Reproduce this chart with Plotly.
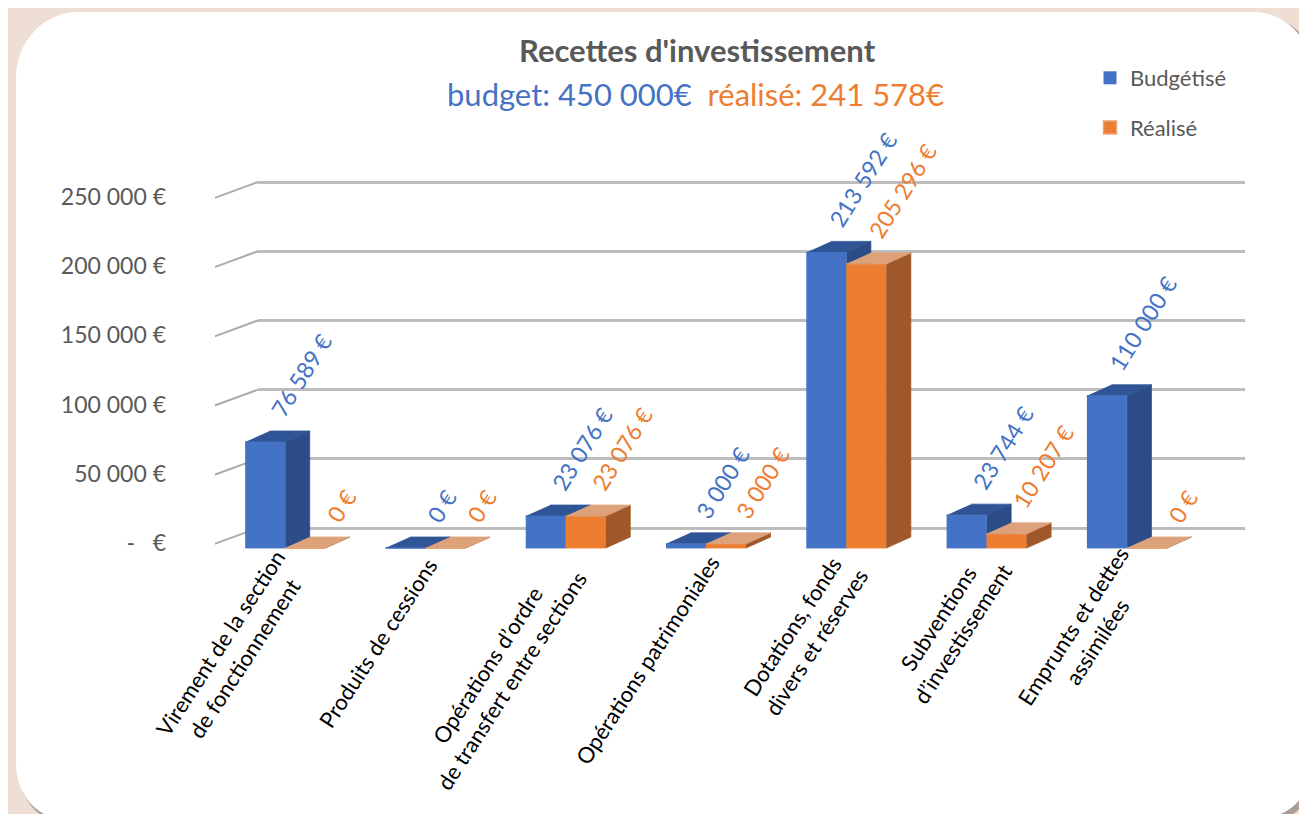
import math
import plotly.graph_objects as go

# ---------------- data ----------------
categories = [
    "Virement de la section<br>de fonctionnement",
    "Produits de cessions",
    "Opérations d’ordre<br>de transfert entre sections",
    "Opérations patrimoniales",
    "Dotations, fonds<br>divers et réserves",
    "Subventions<br>d’investissement",
    "Emprunts et dettes<br>assimilées",
]
budgetise = [76589, 0, 23076, 3000, 213592, 23744, 110000]
realise = [0, 0, 23076, 3000, 205296, 10207, 0]
y_tickvals = [0, 50000, 100000, 150000, 200000, 250000]
y_ticktext = ["-&nbsp;&nbsp; €", "50 000 €", "100 000 €", "150 000 €", "200 000 €", "250 000 €"]
series_names = ["Budgétisé", "Réalisé"]
title_text = "<b>Recettes d'investissement</b>"
subtitle_budget = "budget: 450 000€"
subtitle_real = "réalisé: 241 578€"

# ---------------- style / geometry ----------------
W, H = 1307, 814
OFF = 8  # page offset of the figure
FONT = "Lato"
BLUE, BLUE_SIDE, BLUE_TOP = "#4472C4", "#2B4C86", "#2F5597"
ORANGE, ORANGE_SIDE, ORANGE_TOP = "#ED7D31", "#A0572A", "#DDA27A"
GREY_TXT = "#595959"
Y_PER_PX = 250000 / 346.0
YMIN, YMAX = -6000, 290000
BAR_W = 0.285
DX = 0.175
DY = 11 * Y_PER_PX
CAT_SIZE = 22
CAT_ANGLE = 57
CHAR_W = 0.46 * CAT_SIZE


def fx_(x):
    return (x - OFF) / W


def fy_(y):
    return 1 - (y - OFF) / H


def ydom(zero_px):
    bottom = zero_px + (-YMIN) / Y_PER_PX
    top = zero_px - YMAX / Y_PER_PX
    return [fy_(bottom), fy_(top)]


def fmt(v):
    return f"{v:,}".replace(",", " ") + " €"


def faces(lefts, values):
    fx, fy, sx, sy, tx, ty = [], [], [], [], [], []
    for L, v in zip(lefts, values):
        fx += [L, L + BAR_W, L + BAR_W, L, None]
        fy += [0, 0, v, v, None]
        sx += [L + BAR_W, L + BAR_W + DX, L + BAR_W + DX, L + BAR_W, None]
        sy += [0, DY, v + DY, v, None]
        tx += [L, L + BAR_W, L + BAR_W + DX, L + DX, None]
        ty += [v, v, v + DY, v + DY, None]
    return (fx, fy), (sx, sy), (tx, ty)


def poly(xy, color):
    return go.Scatter(
        x=xy[0], y=xy[1], mode="lines", fill="toself", fillcolor=color,
        line=dict(color=color, width=0.8), hoverinfo="skip", showlegend=False,
        xaxis="x2", yaxis="y2",
    )


idx = list(range(len(categories)))
blue_left = [i - BAR_W for i in idx]
orange_left = [i for i in idx]
bf, bs, bt = faces(blue_left, budgetise)
of, os_, ot = faces(orange_left, realise)

fig = go.Figure()
fig.add_trace(go.Scatter(x=[None], y=[None], xaxis="x", yaxis="y", showlegend=False, hoverinfo="skip"))

fig.add_trace(poly(bs, BLUE_SIDE))
fig.add_trace(poly(bt, BLUE_TOP))
fig.add_trace(poly(bf, BLUE))
fig.add_trace(poly(of, ORANGE))
fig.add_trace(poly(os_, ORANGE_SIDE))
fig.add_trace(poly(ot, ORANGE_TOP))

fig.add_trace(go.Scatter(x=[None], y=[None], mode="markers", name=series_names[0], legendgroup="a",
                         marker=dict(symbol="square", size=13, color=BLUE), xaxis="x2", yaxis="y2"))
fig.add_trace(go.Scatter(x=[None], y=[None], mode="markers", name=series_names[1], legendgroup="b",
                         marker=dict(symbol="square", size=13, color=ORANGE,
                                     line=dict(color="#E8A878", width=1.5)), xaxis="x2", yaxis="y2"))

annotations = []
ca, sa = math.cos(math.radians(CAT_ANGLE)), math.sin(math.radians(CAT_ANGLE))
for i in idx:
    for val, left, col in ((budgetise[i], blue_left[i], BLUE), (realise[i], orange_left[i], ORANGE)):
        annotations.append(dict(
            x=left + BAR_W / 2, y=val, xref="x2", yref="y2", text=fmt(val),
            showarrow=False, textangle=-58, xanchor="center", yanchor="bottom",
            xshift=36, yshift=18, font=dict(family=FONT, size=23, color=col),
        ))
    # category label: the end-centre of the rotated (centred) text block sits under the group
    lmax = max(len(s) for s in categories[i].split("<br>")) * CHAR_W
    annotations.append(dict(
        x=i, y=0, xref="x2", yref="y2", text=categories[i], showarrow=False,
        textangle=-CAT_ANGLE, align="center", xanchor="center", yanchor="middle",
        xshift=8 - ca * lmax / 2, yshift=-10 - sa * lmax / 2,
        font=dict(family=FONT, size=CAT_SIZE, color="black"),
    ))

annotations.append(dict(x=fx_(697), y=fy_(50), xref="paper", yref="paper", text=title_text,
                        showarrow=False, xanchor="center", yanchor="middle",
                        font=dict(family=FONT, size=31, color=GREY_TXT)))
annotations.append(dict(x=fx_(695), y=fy_(94), xref="paper", yref="paper",
                        text=f"<span style='color:{BLUE}'>{subtitle_budget}</span>&nbsp;&nbsp;"
                             f"<span style='color:{ORANGE}'>{subtitle_real}</span>",
                        showarrow=False, xanchor="center", yanchor="middle",
                        font=dict(family=FONT, size=31, color=BLUE)))


def px(x, y):
    return f"{fx_(x):.5f},{fy_(y):.5f}"


def rounded_rect(l, t, r, b, rad):
    k = 0.5523
    (tl, tr, br, bl) = rad
    p = "M " + px(l, t + tl[1])
    p += " C " + px(l, t + tl[1] * (1 - k)) + " " + px(l + tl[0] * (1 - k), t) + " " + px(l + tl[0], t)
    p += " L " + px(r - tr[0], t)
    p += " C " + px(r - tr[0] * (1 - k), t) + " " + px(r, t + tr[1] * (1 - k)) + " " + px(r, t + tr[1])
    p += " L " + px(r, b - br[1])
    p += " C " + px(r, b - br[1] * (1 - k)) + " " + px(r - br[0] * (1 - k), b) + " " + px(r - br[0], b)
    p += " L " + px(l + bl[0], b)
    p += " C " + px(l + bl[0] * (1 - k), b) + " " + px(l, b - bl[1] * (1 - k)) + " " + px(l, b - bl[1])
    p += " Z"
    return p


radii = ((62, 66), (58, 58), (50, 50), (45, 55))
shapes = [
    dict(type="path", xref="paper", yref="paper", layer="below",
         path=rounded_rect(18, 15, 1316, 822, radii), fillcolor="rgba(90,80,75,0.45)", line=dict(width=0)),
    dict(type="path", xref="paper", yref="paper", layer="below",
         path=rounded_rect(16, 12, 1311, 818, radii), fillcolor="white", line=dict(width=0)),
]
for v in y_tickvals:
    shapes.append(dict(type="line", xref="x2", yref="y2", layer="below",
                       xsizemode="pixel", xanchor=-0.5, x0=-25, x1=43,
                       ysizemode="pixel", yanchor=v, y0=-5, y1=20,
                       line=dict(color="#ABABAB", width=2)))

fig.update_layout(
    width=W, height=H, margin=dict(l=0, r=0, t=0, b=0, pad=0, autoexpand=False),
    paper_bgcolor="#EEDED4", plot_bgcolor="rgba(0,0,0,0)",
    font=dict(family=FONT, color=GREY_TXT),
    showlegend=True,
    legend=dict(x=fx_(1090), y=fy_(57), xanchor="left", yanchor="top",
                font=dict(family=FONT, size=22, color=GREY_TXT), bgcolor="rgba(0,0,0,0)",
                tracegroupgap=18, itemwidth=30),
    xaxis=dict(domain=[fx_(258), fx_(1245)], range=[0, 1], visible=False, fixedrange=True, automargin=False),
    yaxis=dict(domain=ydom(528), range=[YMIN, YMAX], tickvals=y_tickvals, showticklabels=False,
               showgrid=True, gridcolor="#BDBDBD", gridwidth=2.5, zeroline=False, showline=False,
               ticks="", anchor="x", fixedrange=True, automargin=False),
    xaxis2=dict(domain=[fx_(215), fx_(1197)], range=[-0.5, len(categories) - 0.5], anchor="y2",
                tickvals=idx, showticklabels=False, showgrid=False, zeroline=False,
                showline=False, ticks="", fixedrange=True, automargin=False),
    yaxis2=dict(domain=ydom(548), range=[YMIN, YMAX], anchor="x2", tickvals=y_tickvals,
                ticktext=y_ticktext, showgrid=False, zeroline=False, showline=False, ticks="",
                tickfont=dict(family=FONT, size=23, color=GREY_TXT), ticklabelstandoff=48,
                ticklabelshift=-5, fixedrange=True, automargin=False),
    annotations=annotations,
    shapes=shapes,
)

fig.write_html("out.html")
